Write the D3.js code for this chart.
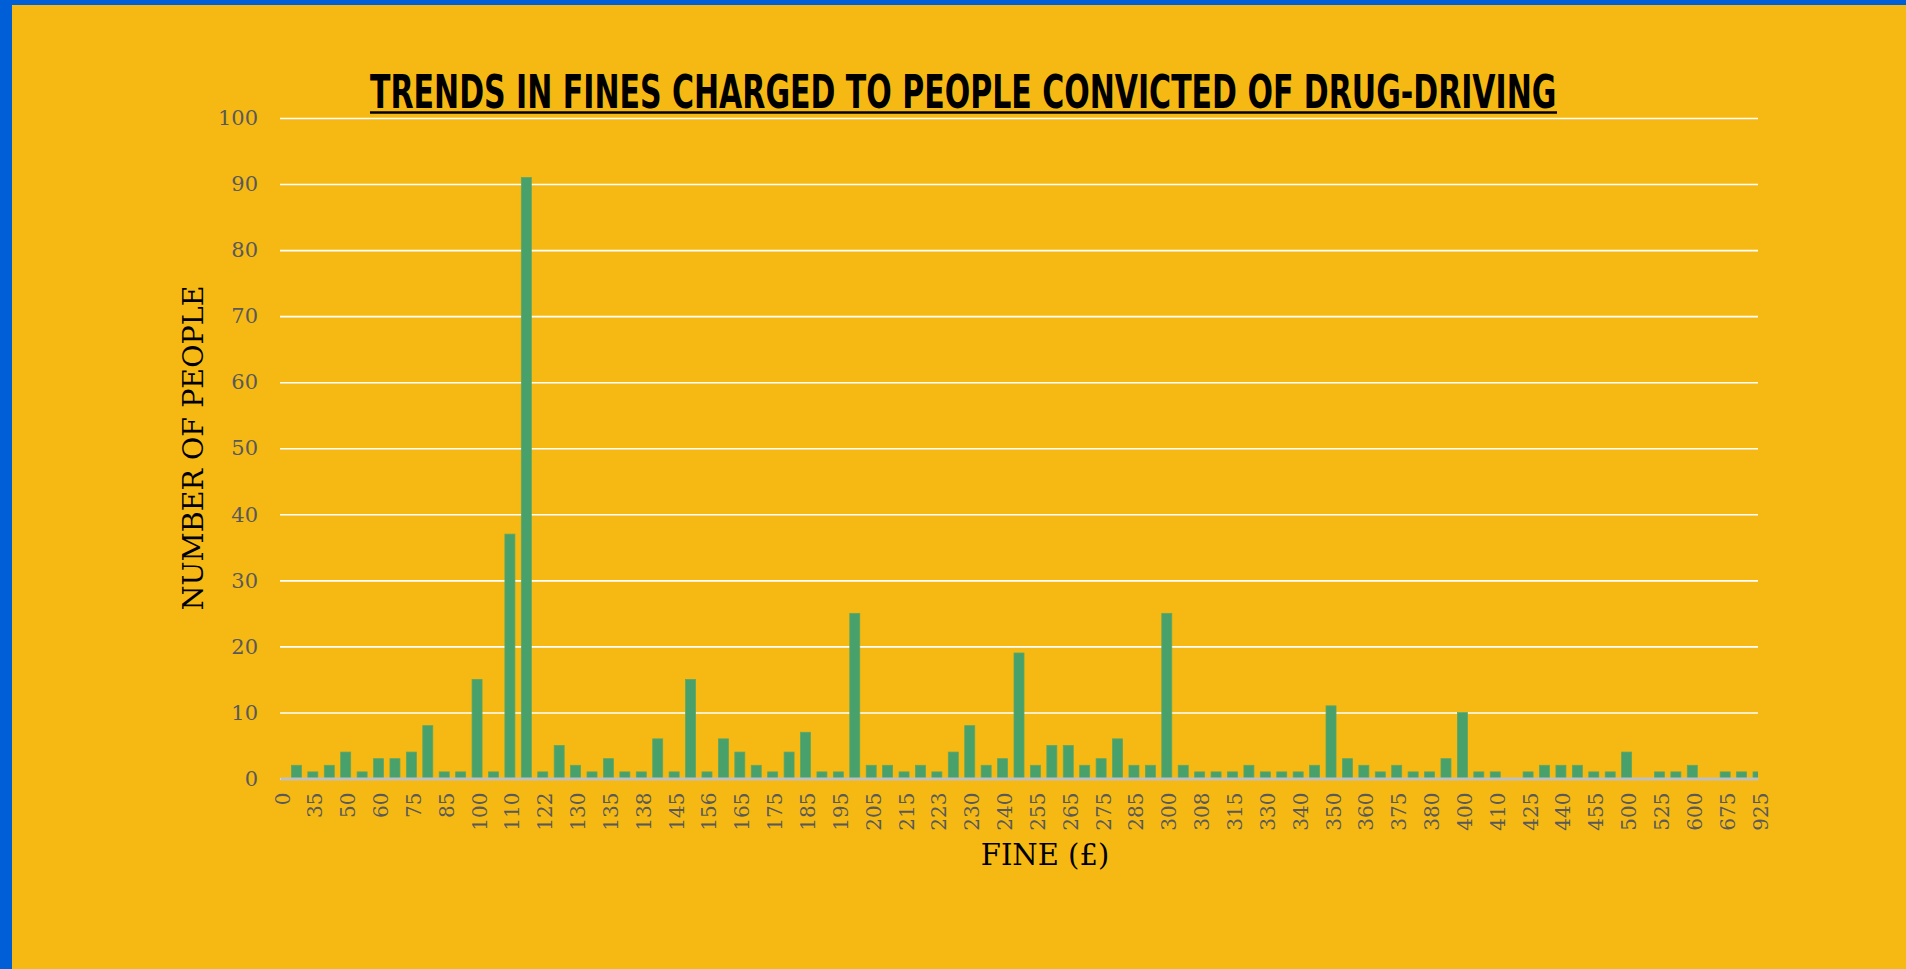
<!DOCTYPE html>
<html>
<head>
<meta charset="utf-8">
<script src="https://cdn.jsdelivr.net/npm/d3@7"></script>
<style>
  html, body { margin: 0; padding: 0; background: #f6b913; overflow: hidden; }
  svg { display: block; }
</style>
</head>
<body>
<svg id="main-vis"></svg>
<script>
// fine amounts (£) - only every other one is printed on the axis
const fineLabels = [
  "0", "30", "35", "40", "50", "55", "60", "70", "75", "80", "85", "90", "100", "105", "110", "120",
  "122", "125", "130", "133", "135", "137", "138", "140", "145", "150", "156", "160", "165", "170",
  "175", "180", "185", "190", "195", "200", "205", "210", "215", "220", "223", "225", "230", "235",
  "240", "250", "255", "260", "265", "270", "275", "280", "285", "290", "300", "305", "308", "310",
  "315", "320", "330", "335", "340", "345", "350", "355", "360", "370", "375", "378", "380", "390",
  "400", "405", "410", "420", "425", "430", "440", "450", "455", "460", "500", "510", "525", "550",
  "600", "650", "675", "700", "925"
];

// number of people per fine
const peopleCounts = [
  0, 2, 1, 2, 4, 1, 3, 3, 4, 8, 1, 1, 15, 1, 37, 91,
  1, 5, 2, 1, 3, 1, 1, 6, 1, 15, 1, 6, 4, 2,
  1, 4, 7, 1, 1, 25, 2, 2, 1, 2, 1, 4, 8, 2,
  3, 19, 2, 5, 5, 2, 3, 6, 2, 2, 25, 2, 1, 1,
  1, 2, 1, 1, 1, 2, 11, 3, 2, 1, 2, 1, 1, 3,
  10, 1, 1, 0, 1, 2, 2, 2, 1, 1, 4, 0, 1, 1,
  2, 0, 1, 1, 1
];

const countTicks = [0, 10, 20, 30, 40, 50, 60, 70, 80, 90, 100];

const pageW = 1906, pageH = 969;
const plot = { left: 280, right: 1758, top: 118, bottom: 778.5 };
const serif = "Georgia, 'DejaVu Serif', serif";

const svg = d3.select("#main-vis")
  .attr("width", pageW)
  .attr("height", pageH);

svg.append("rect")
  .attr("width", pageW)
  .attr("height", pageH)
  .attr("fill", "#f6b913");

// blue frame on the left and top edge
svg.append("rect").attr("x", 0).attr("y", 0).attr("width", 12).attr("height", pageH).attr("fill", "#005ed6");
svg.append("rect").attr("x", 0).attr("y", 0).attr("width", pageW).attr("height", 5).attr("fill", "#005ed6");

const xScale = d3.scalePoint()
  .domain(fineLabels)
  .range([plot.left, plot.right])
  .padding(0);

const yScale = d3.scaleLinear()
  .domain([0, 100])
  .range([plot.bottom, plot.top]);

// y axis + white gridlines
const yAxis = svg.append("g")
  .attr("transform", `translate(${plot.left},0)`)
  .call(d3.axisLeft(yScale)
    .tickValues(countTicks)
    .tickSize(-(plot.right - plot.left))
    .tickPadding(22));

yAxis.select(".domain").remove();
yAxis.selectAll(".tick line")
  .attr("stroke", "#ffffff")
  .attr("stroke-width", 1.6);
yAxis.selectAll(".tick text")
  .attr("fill", "#595959")
  .style("font-family", serif)
  .style("font-size", "21px");

// bars - clipped so the first / last category only show half a bar (Excel "on tick marks")
svg.append("clipPath")
  .attr("id", "plot-clip")
  .append("rect")
  .attr("x", plot.left)
  .attr("y", 0)
  .attr("width", plot.right - plot.left)
  .attr("height", pageH);

const barW = 10;
svg.append("g")
  .attr("clip-path", "url(#plot-clip)")
  .selectAll("rect")
  .data(fineLabels)
  .enter()
  .append("rect")
    .attr("x", d => xScale(d) - barW / 2)
    .attr("width", barW)
    .attr("y", (d, i) => yScale(peopleCounts[i]))
    .attr("height", (d, i) => yScale(0) - yScale(peopleCounts[i]))
    .attr("fill", "#48a06b")
    .attr("stroke", "#5ea866")
    .attr("stroke-width", 0.8);

// x axis
const xAxis = svg.append("g")
  .attr("transform", `translate(0,${plot.bottom})`)
  .call(d3.axisBottom(xScale)
    .tickValues(fineLabels.filter((d, i) => i % 2 === 0))
    .tickSize(0)
    .tickSizeOuter(0));

xAxis.select(".domain")
  .attr("stroke", "#bfbfbf")
  .attr("stroke-width", 3);

xAxis.selectAll(".tick text")
  .attr("transform", "rotate(-90)")
  .attr("text-anchor", "end")
  .attr("x", -14)
  .attr("y", 2)
  .attr("dy", "0.35em")
  .attr("fill", "#595959")
  .style("font-family", serif)
  .style("font-size", "20px");

// title - no Impact here, so squeeze a condensed bold face into the same width
const titleLeft = 370, titleWidth = 1187;
const titleGroup = svg.append("g");
const title = titleGroup.append("text")
  .attr("x", 0)
  .attr("y", 0)
  .attr("font-family", "Impact, 'Liberation Sans Narrow', 'DejaVu Sans Condensed', 'Arial Narrow', sans-serif")
  .attr("font-weight", "bold")
  .attr("font-size", "46px")
  .attr("fill", "#000")
  .text("TRENDS IN FINES CHARGED TO PEOPLE CONVICTED OF DRUG-DRIVING");

const naturalW = title.node().getComputedTextLength();
titleGroup.attr("transform", `translate(${titleLeft},108) scale(${titleWidth / naturalW},1)`);

svg.append("line")
  .attr("x1", titleLeft)
  .attr("x2", titleLeft + titleWidth)
  .attr("y1", 112.5)
  .attr("y2", 112.5)
  .attr("stroke", "#000")
  .attr("stroke-width", 2.5);

// axis titles
svg.append("text")
  .attr("transform", "translate(203,448) rotate(-90)")
  .attr("text-anchor", "middle")
  .attr("font-family", serif)
  .attr("font-size", "28.5px")
  .attr("fill", "#000")
  .text("NUMBER OF PEOPLE");

svg.append("text")
  .attr("x", 1045)
  .attr("y", 865)
  .attr("text-anchor", "middle")
  .attr("font-family", serif)
  .attr("font-size", "29px")
  .attr("fill", "#000")
  .text("FINE (£)");
</script>
</body>
</html>
